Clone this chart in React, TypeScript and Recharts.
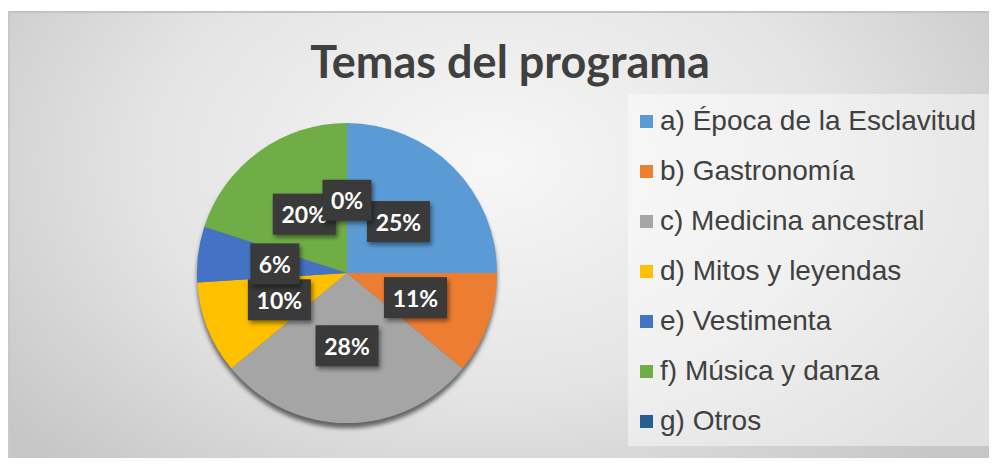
import { PieChart, Pie, Cell, Legend } from "recharts";

const categories = [
  "a) Época de la Esclavitud",
  "b) Gastronomía",
  "c) Medicina ancestral",
  "d) Mitos y leyendas",
  "e) Vestimenta",
  "f) Música y danza",
  "g) Otros",
];
const values = [25, 11, 28, 10, 6, 20, 0];
const colors = ["#5B9BD5", "#ED7D31", "#A5A5A5", "#FFC000", "#4472C4", "#70AD47", "#255E91"];

const data = categories.map((name, i) => ({ name, value: values[i] }));

const RADIAN = Math.PI / 180;

const renderLabel = (props: any) => {
  const { cx, cy, midAngle, outerRadius, percent } = props;
  const r = outerRadius * 0.485;
  const x = cx + r * Math.cos(-midAngle * RADIAN);
  const y = cy + r * Math.sin(-midAngle * RADIAN);
  const text = `${Math.round(percent * 100)}%`;
  const w = text.length > 2 ? 63 : 49;
  const h = 41;
  return (
    <g>
      <rect
        x={x - w / 2}
        y={y - h / 2}
        width={w}
        height={h}
        fill="#3a3a3a"
        style={{ filter: "drop-shadow(2px 3px 2px rgba(0,0,0,0.45))" }}
      />
      <text
        x={x}
        y={y}
        fill="#fff"
        textAnchor="middle"
        dominantBaseline="central"
        fontFamily="Lato, 'Open Sans', sans-serif"
        fontWeight={700}
        fontSize={23}
      >
        {text}
      </text>
    </g>
  );
};

const renderLegend = () => (
  <div
    style={{
      width: 366,
      height: 352,
      background: "rgba(255,255,255,0.45)",
      paddingTop: 2,
      boxSizing: "border-box",
    }}
  >
    {data.map((d, i) => (
      <div
        key={d.name}
        style={{
          display: "flex",
          alignItems: "center",
          height: 50,
          fontFamily: "'Liberation Sans', Arial, sans-serif",
          fontSize: 28,
          color: "#404040",
        }}
      >
        <span
          style={{
            display: "inline-block",
            width: 13,
            height: 13,
            background: colors[i],
            marginLeft: 12,
            marginRight: 7,
          }}
        />
        {d.name}
      </div>
    ))}
  </div>
);

export default function App() {
  return (
    <div style={{ position: "relative", width: 997, height: 466, margin: -8, background: "#fff", overflow: "hidden" }}>
      <style>{`.recharts-pie { filter: drop-shadow(0px 5px 2px rgba(0,0,0,0.55)); }`}</style>
      <div
        style={{
          position: "absolute",
          left: 8,
          top: 11,
          width: 989,
          height: 455,
          borderTop: "2px solid #c2c2c2",
          borderLeft: "2px solid #c8c8c8",
          background:
            "radial-gradient(ellipse 620px 420px at 480px 150px, #f7f7f7 0%, #e4e4e4 55%, #c6c6c6 100%)",
        }}
      >
        <div
          style={{
            position: "absolute",
            left: 0,
            width: 1000,
            top: 21,
            textAlign: "center",
            fontFamily: "Lato, 'Open Sans', sans-serif",
            fontWeight: 700,
            fontSize: 45,
            color: "#404040",
          }}
        >
          Temas del programa
        </div>
        <PieChart width={987} height={453}>
          <Pie
            data={data}
            dataKey="value"
            nameKey="name"
            cx={332}
            cy={255}
            outerRadius={150}
            startAngle={90}
            endAngle={-270}
            stroke="none"
            label={renderLabel}
            labelLine={false}
            isAnimationActive={false}
          >
            {data.map((d, i) => (
              <Cell key={d.name} fill={colors[i]} />
            ))}
          </Pie>
          <Legend
            content={renderLegend}
            layout="vertical"
            verticalAlign="top"
            align="right"
            wrapperStyle={{ top: 81, left: 618, width: 366 }}
          />
        </PieChart>
      </div>
    </div>
  );
}
